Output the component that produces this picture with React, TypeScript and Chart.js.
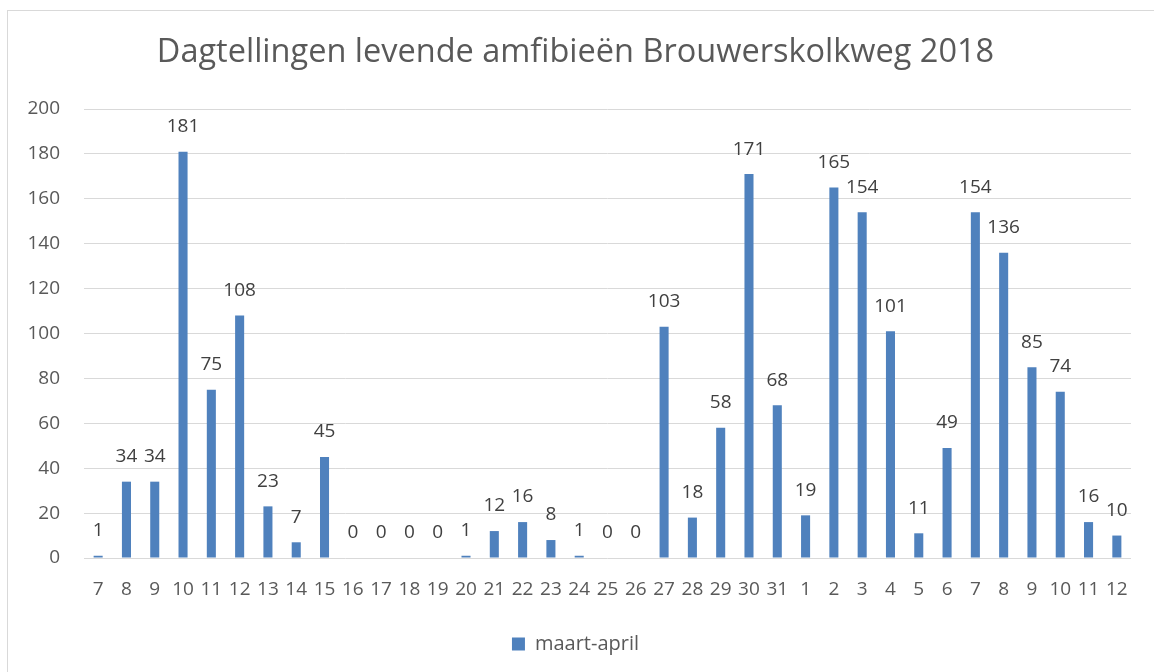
import React, { useEffect, useRef } from "react";
import { Chart, registerables } from "chart.js";

Chart.register(...registerables);

const TITLE = "Dagtellingen levende amfibieën Brouwerskolkweg 2018";
const SERIES_NAME = "maart-april";
const DAYS = [
  "7", "8", "9", "10", "11", "12", "13", "14", "15", "16", "17", "18", "19",
  "20", "21", "22", "23", "24", "25", "26", "27", "28", "29", "30", "31",
  "1", "2", "3", "4", "5", "6", "7", "8", "9", "10", "11", "12",
];
const COUNTS = [
  1, 34, 34, 181, 75, 108, 23, 7, 45, 0, 0, 0, 0,
  1, 12, 16, 8, 1, 0, 0, 103, 18, 58, 171, 68,
  19, 165, 154, 101, 11, 49, 154, 136, 85, 74, 16, 10,
];
const Y_MIN = 0;
const Y_MAX = 200;
const Y_STEP = 20;

const FONT = '"Open Sans", "Noto Sans", sans-serif';
const BAR_COLOR = "#4F81BD";
const TEXT = "#595959";
const LABEL_TEXT = "#404040";
const GRID = "#D9D9D9";

const barLabels = {
  id: "barLabels",
  afterDatasetsDraw(chart: any) {
    const ctx = chart.ctx;
    const meta = chart.getDatasetMeta(0);
    const data = chart.data.datasets[0].data;
    ctx.save();
    ctx.font = `19px ${FONT}`;
    ctx.fillStyle = LABEL_TEXT;
    ctx.textAlign = "center";
    ctx.textBaseline = "middle";
    meta.data.forEach((bar: any, i: number) => {
      ctx.fillText(String(data[i]), bar.x, bar.y - 25);
    });
    ctx.restore();
  },
};

export default function App() {
  const ref = useRef<HTMLCanvasElement | null>(null);

  useEffect(() => {
    if (!ref.current) return;
    const chart = new Chart(ref.current, {
      type: "bar",
      data: {
        labels: DAYS,
        datasets: [
          {
            label: SERIES_NAME,
            data: COUNTS,
            backgroundColor: BAR_COLOR,
            borderWidth: 0,
            barPercentage: 0.32,
            categoryPercentage: 1,
          },
        ],
      },
      options: {
        responsive: false,
        animation: false,
        layout: { padding: { left: 20, right: 23, top: 0, bottom: 8 } },
        plugins: {
          title: {
            display: true,
            text: TITLE,
            color: TEXT,
            font: { family: FONT, size: 32.5, weight: "normal" },
            padding: { top: 33, bottom: 37 },
          },
          legend: {
            display: true,
            position: "bottom",
            labels: {
              color: TEXT,
              font: { family: FONT, size: 20 },
              boxWidth: 13,
              boxHeight: 13,
              padding: 10,
            },
          },
          tooltip: { enabled: false },
        },
        scales: {
          x: {
            grid: { display: false, drawTicks: false },
            border: { display: false },
            ticks: {
              color: TEXT,
              font: { family: FONT, size: 19 },
              autoSkip: false,
              maxRotation: 0,
              minRotation: 0,
              padding: 20,
            },
            afterFit: (scale: any) => {
              scale.height = 66;
            },
          },
          y: {
            min: Y_MIN,
            max: Y_MAX,
            grid: { color: GRID, lineWidth: 1, drawTicks: false },
            border: { display: false },
            ticks: {
              stepSize: Y_STEP,
              color: TEXT,
              font: { family: FONT, size: 19 },
              padding: 24,
            },
            afterFit: (scale: any) => {
              scale.width = 64;
            },
          },
        },
      },
      plugins: [barLabels],
    });
    return () => chart.destroy();
  }, []);

  return (
    <div
      style={{
        position: "fixed",
        left: 0,
        top: 0,
        width: 1154,
        height: 672,
        overflow: "hidden",
        background: "#fff",
      }}
    >
      <div
        style={{
          position: "absolute",
          left: 7,
          top: 10,
          width: 1170,
          height: 700,
          border: "1px solid #D9D9D9",
        }}
      />
      <canvas
        ref={ref}
        width={1154}
        height={672}
        style={{ position: "absolute", left: 0, top: 0, display: "block" }}
      />
    </div>
  );
}
